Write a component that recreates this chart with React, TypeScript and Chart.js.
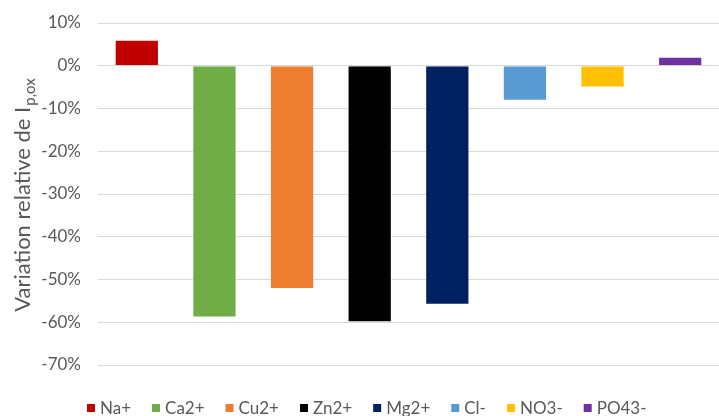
import React, { useEffect, useRef } from "react";
import { Chart, registerables } from "chart.js";

Chart.register(...registerables);

const categories = ["Na+", "Ca2+", "Cu2+", "Zn2+", "Mg2+", "Cl-", "NO3-", "PO43-"];
const values = [0.061, -0.589, -0.522, -0.6, -0.559, -0.082, -0.051, 0.021];
const colors = ["#C00000", "#70AD47", "#ED7D31", "#000000", "#002060", "#5B9BD5", "#FFC000", "#7030A0"];
const yMin = -0.7;
const yMax = 0.1;
const yStep = 0.1;
const axisTitleMain = "Variation relative de I";
const axisTitleSub = "p,ox";

const FONT = "Lato, 'Open Sans', sans-serif";
const GREY = "#595959";

const titlePlugin = {
  id: "yTitleSub",
  afterDraw(chart: any) {
    const { ctx } = chart;
    const midY = 195;
    ctx.save();
    ctx.translate(30, midY);
    ctx.rotate(-Math.PI / 2);
    ctx.fillStyle = GREY;
    ctx.textBaseline = "alphabetic";
    const mainFont = `22px ${FONT}`;
    const subFont = `15px ${FONT}`;
    ctx.font = mainFont;
    const w1 = ctx.measureText(axisTitleMain).width;
    ctx.font = subFont;
    const w2 = ctx.measureText(axisTitleSub).width;
    const total = w1 + w2 + 1;
    let x = -total / 2;
    ctx.font = mainFont;
    ctx.fillText(axisTitleMain, x, 0);
    x += w1 + 1;
    ctx.font = subFont;
    ctx.fillText(axisTitleSub, x, 5);
    ctx.restore();
  },
};

const legendPlugin = {
  id: "customLegend",
  afterDraw(chart: any) {
    const { ctx } = chart;
    const y = 408;
    const box = 8;
    const gapText = 5;
    const gapItem = 21;
    let x = 87;
    ctx.save();
    ctx.font = `17px ${FONT}`;
    ctx.textBaseline = "middle";
    chart.data.datasets.forEach((ds: any) => {
      ctx.fillStyle = ds.backgroundColor;
      ctx.fillRect(x, y - box / 2, box, box);
      x += box + gapText;
      ctx.fillStyle = GREY;
      ctx.fillText(ds.label, x, y + 1);
      x += ctx.measureText(ds.label).width + gapItem;
    });
    ctx.restore();
  },
};

export default function App() {
  const ref = useRef<HTMLCanvasElement>(null);
  useEffect(() => {
    document.body.style.margin = "0";
    const datasets = categories.map((c, i) => ({
      label: c,
      data: categories.map((_, j) => (j === i ? values[i] : null)),
      backgroundColor: colors[i],
      borderColor: "rgba(255,255,255,0.6)",
      borderWidth: 1,
      categoryPercentage: 1,
      barPercentage: 0.57,
      skipNull: true,
    }));
    const chart = new Chart(ref.current!, {
      type: "bar",
      data: { labels: categories, datasets: datasets as any },
      options: {
        animation: false,
        responsive: false,
        maintainAspectRatio: false,
        layout: { padding: { top: 23, right: 0, left: 0, bottom: 51 } },
        plugins: {
          legend: { display: false },
          tooltip: { enabled: false },
        },
        scales: {
          x: {
            display: false,
            grid: { display: false },
          },
          y: {
            min: yMin,
            max: yMax,
            afterFit: (scale: any) => {
              scale.width = 98;
              scale.paddingTop = 0;
              scale.paddingBottom = 0;
            },
            ticks: {
              stepSize: yStep,
              color: GREY,
              padding: 17,
              font: { family: FONT, size: 17 },
              callback: (v: any) => `${Math.round(Number(v) * 100)}%`,
            },
            grid: { color: "#D9D9D9", lineWidth: 1, drawTicks: false },
            border: { display: false },
          },
        },
      },
      plugins: [titlePlugin, legendPlugin],
    });
    return () => chart.destroy();
  }, []);
  return <canvas ref={ref} width={719} height={416} style={{ display: "block" }} />;
}
